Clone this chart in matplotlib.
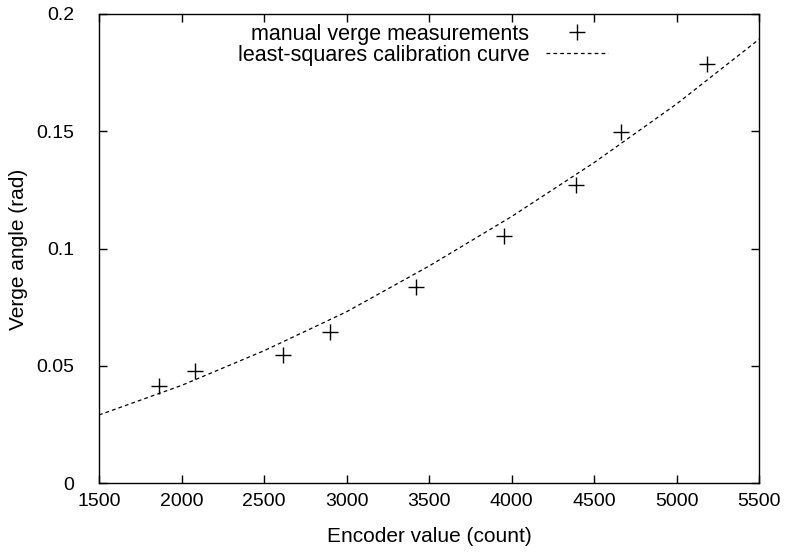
import matplotlib
matplotlib.use("Agg")
import matplotlib.pyplot as plt

plt.rcParams['font.family'] = ['Liberation Sans', 'DejaVu Sans']

# measured points
encoder = [1864, 2082, 2617, 2900, 3421, 3955, 4391, 4662, 5183]
angle = [0.0414, 0.0479, 0.0546, 0.0645, 0.0837, 0.1055, 0.1270, 0.1495, 0.1787]

# calibration curve values
curve_x = [1500, 2000, 2500, 3000, 3500, 4000, 4500, 5000, 5500]
curve_y = [0.0290, 0.0416, 0.0564, 0.0730, 0.0925, 0.1136, 0.1366, 0.1616, 0.1892]

xticks = [1500, 2000, 2500, 3000, 3500, 4000, 4500, 5000, 5500]
yticks = [0, 0.05, 0.1, 0.15, 0.2]
ytick_labels = ["0", "0.05", "0.1", "0.15", "0.2"]

W, H = 791, 554
fig = plt.figure(figsize=(W/100, H/100), dpi=100)
ax = fig.add_axes([99/W, 1 - 483/H, (759-99)/W, (483-14)/H])

ax.plot(encoder, angle, linestyle='none', marker='+', markersize=12,
        markeredgewidth=1.0, color='black', label='manual verge measurements')
ax.plot(curve_x, curve_y, linestyle=(0, (3, 2.5)), linewidth=0.9, color='black',
        label='least-squares calibration curve')

ax.set_xlim(1500, 5500)
ax.set_ylim(0, 0.2)
ax.set_xticks(xticks)
ax.set_xticklabels([str(t) for t in xticks])
ax.set_yticks(yticks)
ax.set_yticklabels(ytick_labels)
ax.tick_params(direction='in', length=6, width=1, labelsize=14, top=True, right=True)
ax.tick_params(axis='y', pad=18)
ax.tick_params(axis='x', pad=7)
for s in ax.spines.values():
    s.set_linewidth(1.0)

fig.text(429/W, 1 - 537/H, 'Encoder value (count)', fontsize=15,
         ha='center', va='center')
fig.text(19/W, 1 - 249/H, 'Verge angle (rad)', fontsize=15,
         ha='center', va='center', rotation=90)

leg = ax.legend(loc='upper right', bbox_to_anchor=(608/W, 1 - 24/H),
                bbox_transform=fig.transFigure, frameon=False,
                markerfirst=False, fontsize=15.5, handlelength=2.9, handletextpad=0.75,
                labelspacing=0.0, borderaxespad=0, borderpad=0)
for t in leg.get_texts():
    t.set_ha('right')
leg._legend_box.align = 'right'

fig.savefig('out.png', dpi=100)
